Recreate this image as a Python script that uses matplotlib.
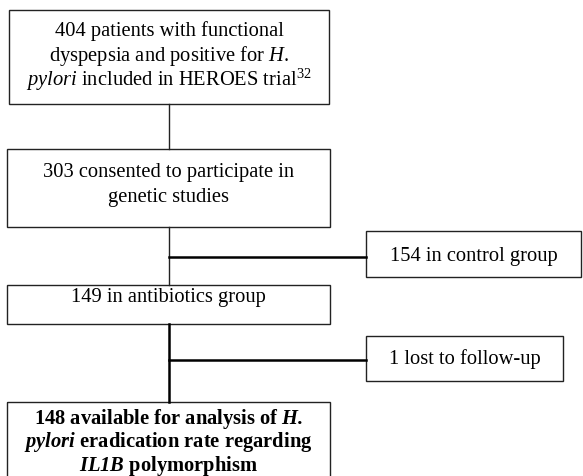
import matplotlib
matplotlib.use("Agg")
import matplotlib.pyplot as plt
from matplotlib.patches import Rectangle

plt.rcParams['font.family'] = ['Liberation Serif', 'DejaVu Serif']
plt.rcParams['mathtext.fontset'] = 'custom'
plt.rcParams['mathtext.rm'] = 'Liberation Serif'
plt.rcParams['mathtext.it'] = 'Liberation Serif:italic'
plt.rcParams['mathtext.bf'] = 'Liberation Serif:bold'
plt.rcParams['mathtext.bfit'] = 'Liberation Serif:italic:bold'

# patient counts at each step
n_enrolled = 404
n_consented = 303
n_control = 154
n_antibiotics = 149
n_lost = 1
n_analysed = 148

# text of the boxes (one string per line)
box_lines = {
    "enrolled": [f"{n_enrolled} patients with functional",
                 r"dyspepsia and positive for $\mathit{H.}$",
                 r"$\mathit{pylori}$ included in HEROES trial$^{\mathrm{32}}$"],
    "consented": [f"{n_consented} consented to participate in",
                  "genetic studies"],
    "control": [f"{n_control} in control group"],
    "antibiotics": [f"{n_antibiotics} in antibiotics group"],
    "lost": [f"{n_lost} lost to follow-up"],
    "analysed": [f"{n_analysed} available for analysis of " + r"$\mathbfit{H.}$",
                 r"$\mathbfit{pylori}$ eradication rate regarding",
                 r"$\mathbfit{IL1B}$ polymorphism"],
}

# layout in pixels: x0, y0, x1, y1, y of first line centre, line step
boxes = {
    "enrolled": (9, 11, 329, 105, 31, 24.5),
    "consented": (7, 150, 330, 228, 173, 24.5),
    "control": (366, 232, 581, 278, 256, 24.5),
    "antibiotics": (7, 286, 330, 325, 298, 24.5),
    "lost": (366, 337, 563, 382, 359, 24.5),
    "analysed": (7, 403, 330, 490, 419, 23.5),
}
bold_boxes = ["analysed"]
trunk_x = 169

fig = plt.figure(figsize=(5.83, 4.77), dpi=100)
ax = fig.add_axes([0, 0, 1, 1])
ax.set_xlim(0, 583)
ax.set_ylim(477, 0)
ax.axis('off')

for key, (x0, y0, x1, y1, ty, step) in boxes.items():
    ax.add_patch(Rectangle((x0, y0), x1 - x0, y1 - y0, fill=False,
                           edgecolor='#222222', linewidth=1.0))
    cx = (x0 + x1) / 2
    for i, line in enumerate(box_lines[key]):
        ax.text(cx, ty + i * step, line, ha='center', va='center',
                fontsize=14.8, color='black',
                fontweight='bold' if key in bold_boxes else 'normal')

# connectors
ax.plot([trunk_x, trunk_x], [105, 150], color='#222222', lw=1.0)
ax.plot([trunk_x, trunk_x], [228, 286], color='#222222', lw=1.0)
ax.plot([trunk_x, 366], [258, 258], color='black', lw=1.8)
ax.plot([trunk_x, trunk_x], [325, 403], color='black', lw=1.8)
ax.plot([trunk_x, 366], [361, 361], color='black', lw=1.8)

fig.savefig("out.png", dpi=100)
